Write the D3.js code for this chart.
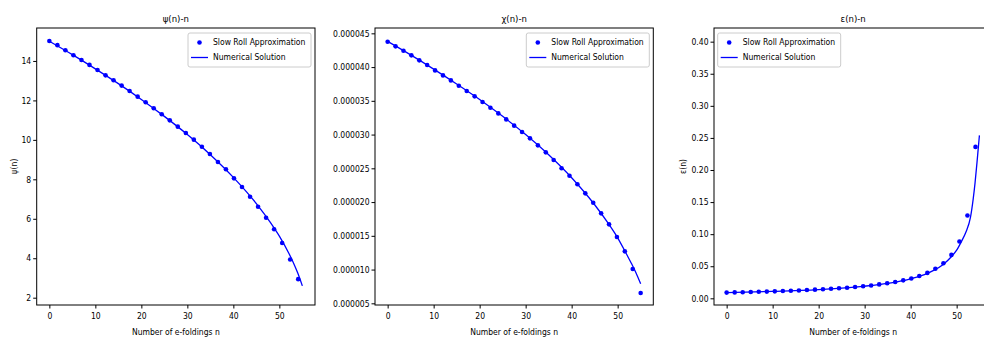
<!DOCTYPE html>
<html>
<head>
<meta charset="utf-8">
<script src="https://cdn.jsdelivr.net/npm/d3@7"></script>
<style>
body { margin: 0; background: #fff; }
svg text { font-family: "DejaVu Sans Condensed", "DejaVu Sans", sans-serif; font-stretch: condensed; fill: #000; }
</style>
</head>
<body>
<svg id="chart" width="984" height="337"></svg>
<script>
// shared x ticks (e-folding number)
var xTicks = [0, 10, 20, 30, 40, 50];

// psi(n): slow roll markers + numerical line
var psiN = [0, 1.75, 3.49, 5.24, 6.98, 8.73, 10.47, 12.22, 13.96, 15.71, 17.45, 19.2, 20.94, 22.69, 24.43, 26.18,
            27.92, 29.67, 31.41, 33.16, 34.9, 36.65, 38.39, 40.14, 41.88, 43.63, 45.37, 47.12, 48.86, 50.61, 52.35, 54.1];
var psiSR = [15.01, 14.8, 14.54, 14.29, 14.05, 13.8, 13.54, 13.27, 13.02, 12.75, 12.48, 12.19, 11.91, 11.6, 11.3, 10.99,
             10.67, 10.35, 10.01, 9.65, 9.28, 8.88, 8.51, 8.05, 7.61, 7.12, 6.61, 6.05, 5.47, 4.77, 3.94, 2.94];
var psiLineN = [0, 5, 10, 15, 20, 25, 30, 35, 40, 45, 48, 50, 52, 53, 54, 55];
var psiLine = [15.0, 14.32, 13.6, 12.85, 12.05, 11.19, 10.27, 9.25, 8.1, 6.77, 5.83, 5.12, 4.28, 3.8, 3.25, 2.6];
var psiTicks = [2, 4, 6, 8, 10, 12, 14];

// chi(n)
var chiN = [0, 1.72, 3.44, 5.16, 6.88, 8.59, 10.31, 12.03, 13.75, 15.47, 17.19, 18.91, 20.63, 22.34, 24.06, 25.78, 27.5,
            29.22, 30.94, 32.66, 34.38, 36.09, 37.81, 39.53, 41.25, 42.97, 44.69, 46.41, 48.13, 49.84, 51.56, 53.28, 55.0];
var chiSR = [43.76e-6, 43.07e-6, 42.43e-6, 41.74e-6, 41.0e-6, 40.3e-6, 39.51e-6, 38.77e-6, 38.03e-6, 37.24e-6, 36.45e-6,
             35.66e-6, 34.82e-6, 33.98e-6, 33.14e-6, 32.25e-6, 31.32e-6, 30.38e-6, 29.44e-6, 28.4e-6, 27.37e-6, 26.23e-6,
             25.0e-6, 23.91e-6, 22.63e-6, 21.29e-6, 19.91e-6, 18.33e-6, 16.7e-6, 14.82e-6, 12.7e-6, 10.08e-6, 6.53e-6];
var chiLineN = [0, 5, 10, 15, 20, 25, 30, 35, 40, 45, 48, 50, 52, 53, 54, 55];
var chiLine = [43.8e-6, 41.8e-6, 39.7e-6, 37.5e-6, 35.2e-6, 32.7e-6, 30.0e-6, 27.0e-6, 23.6e-6, 19.6e-6, 16.8e-6,
               14.7e-6, 12.2e-6, 10.9e-6, 9.5e-6, 7.9e-6];
var chiTicks = [5e-6, 10e-6, 15e-6, 20e-6, 25e-6, 30e-6, 35e-6, 40e-6, 45e-6];

// epsilon(n)
var epsN = psiN;
var epsSR = [0.0089, 0.0092, 0.0095, 0.0098, 0.0102, 0.0105, 0.0109, 0.0114, 0.0118, 0.0123, 0.0129, 0.0135, 0.0142,
             0.0149, 0.0157, 0.0166, 0.0177, 0.0188, 0.0201, 0.0217, 0.0234, 0.0255, 0.028, 0.031, 0.0348, 0.0396,
             0.046, 0.0547, 0.0677, 0.0886, 0.129, 0.236];
var epsLineN = [0, 10, 20, 25, 30, 35, 40, 43, 45, 47, 49, 50, 51, 52, 53, 53.6, 54, 54.4, 54.7, 54.95];
var epsLine = [0.0089, 0.0108, 0.0137, 0.016, 0.019, 0.0233, 0.0305, 0.037, 0.0435, 0.0525, 0.066, 0.075, 0.088,
               0.103, 0.126, 0.155, 0.18, 0.21, 0.234, 0.254];
var epsTicks = [0, 0.05, 0.1, 0.15, 0.2, 0.25, 0.3, 0.35, 0.4];

var svg = d3.select("#chart");
var blue = "#0000ff";
var top_ = 28, bottom = 305, axW = 278.3;

var panels = [
  {left: 36.7, title: "\u03c8(n)-n", ylabel: "\u03c8(n)", n: psiN, sr: psiSR, ln: psiLineN, lv: psiLine,
   ticks: psiTicks, ydom: [1.63, 15.67], fmt: d3.format("d"), legend: "right", ylabX: 14},
  {left: 375, title: "\u03c7(n)-n", ylabel: null, n: chiN, sr: chiSR, ln: chiLineN, lv: chiLine,
   ticks: chiTicks, ydom: [4.75e-6, 45.79e-6], fmt: d3.format(".6f"), legend: "right"},
  {left: 714, title: "\u03b5(n)-n", ylabel: "\u03b5(n)", n: epsN, sr: epsSR, ln: epsLineN, lv: epsLine,
   ticks: epsTicks, ydom: [-0.0104, 0.4213], fmt: d3.format(".2f"), legend: "left", ylabX: 683}
];

panels.forEach(function(p, i) {
  var x = d3.scaleLinear().domain([-2.75, 57.75]).range([p.left, p.left + axW]);
  var y = d3.scaleLinear().domain(p.ydom).range([bottom, top_]);
  var g = svg.append("g");

  g.append("clipPath").attr("id", "clip" + i)
    .append("rect").attr("x", p.left).attr("y", top_).attr("width", axW).attr("height", bottom - top_);

  var plot = g.append("g").attr("clip-path", "url(#clip" + i + ")");

  // slow roll markers
  plot.selectAll("circle")
    .data(p.n.map(function(d, k) { return [d, p.sr[k]]; }))
    .enter().append("circle")
      .attr("cx", function(d) { return x(d[0]); })
      .attr("cy", function(d) { return y(d[1]); })
      .attr("r", 2.3)
      .attr("fill", blue);

  // numerical solution
  var line = d3.line()
      .x(function(d) { return x(d[0]); })
      .y(function(d) { return y(d[1]); })
      .curve(d3.curveMonotoneX);
  plot.append("path")
      .datum(p.ln.map(function(d, k) { return [d, p.lv[k]]; }))
      .attr("d", line)
      .attr("fill", "none")
      .attr("stroke", blue)
      .attr("stroke-width", 1.3);

  // axes
  var xa = g.append("g").attr("transform", "translate(0," + bottom + ")")
      .call(d3.axisBottom(x).tickValues(xTicks).tickSize(3.5).tickSizeOuter(0).tickPadding(4.5));
  var ya = g.append("g").attr("transform", "translate(" + p.left + ",0)")
      .call(d3.axisLeft(y).tickValues(p.ticks).tickFormat(p.fmt).tickSize(3.5).tickSizeOuter(0).tickPadding(2));
  [xa, ya].forEach(function(a) {
    a.select(".domain").remove();
    a.selectAll("text").attr("font-size", 8.5).attr("fill", "#000")
      .style("font-family", "'DejaVu Sans Condensed','DejaVu Sans',sans-serif");
    a.selectAll("line").attr("stroke", "#000");
  });

  // frame
  g.append("rect")
      .attr("x", p.left).attr("y", top_).attr("width", axW).attr("height", bottom - top_)
      .attr("fill", "none").attr("stroke", "#000").attr("stroke-width", 1);

  g.append("text")
      .attr("x", p.left + axW / 2).attr("y", 21.5)
      .attr("text-anchor", "middle").attr("font-size", 9.5)
      .text(p.title);

  g.append("text")
      .attr("x", p.left + axW / 2).attr("y", 334.5)
      .attr("text-anchor", "middle").attr("font-size", 8.5)
      .text("Number of e-foldings n");

  if (p.ylabel) {
    g.append("text")
        .attr("transform", "translate(" + (p.ylabX + 3) + "," + ((top_ + bottom) / 2) + ") rotate(-90)")
        .attr("text-anchor", "middle").attr("font-size", 8.5)
        .text(p.ylabel);
  }

  // legend
  var lw = 123, lh = 34;
  var lx = p.legend === "right" ? p.left + axW - 4 - lw : p.left + 3.7;
  var lg = g.append("g").attr("transform", "translate(" + lx + "," + (top_ + 5) + ")");
  lg.append("rect").attr("width", lw).attr("height", lh).attr("rx", 2)
    .attr("fill", "#fff").attr("fill-opacity", 0.8).attr("stroke", "#ccc").attr("stroke-width", 1);
  lg.append("circle").attr("cx", 11.5).attr("cy", 9.5).attr("r", 2.3).attr("fill", blue);
  lg.append("line").attr("x1", 3).attr("x2", 20).attr("y1", 24.5).attr("y2", 24.5)
    .attr("stroke", blue).attr("stroke-width", 1.3);
  lg.append("text").attr("x", 25).attr("y", 9.5).attr("dy", "0.35em").attr("font-size", 8.5)
    .text("Slow Roll Approximation");
  lg.append("text").attr("x", 25).attr("y", 24.5).attr("dy", "0.35em").attr("font-size", 8.5)
    .text("Numerical Solution");
});
</script>
</body>
</html>
